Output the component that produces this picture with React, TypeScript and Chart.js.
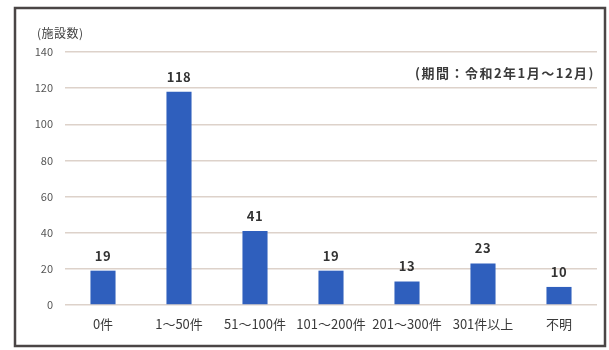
import React, { useEffect, useRef } from "react";
import { Chart, registerables } from "chart.js";

Chart.register(...registerables);

const categories = ["0件", "1～50件", "51～100件", "101～200件", "201～300件", "301件以上", "不明"];
const counts = [19, 118, 41, 19, 13, 23, 10];
const yTitle = "(施設数)";
const periodNote = "(期間：令和2年1月～12月)";
const yMax = 140;
const yStep = 20;

const FONT = "'Noto Sans CJK JP', 'Noto Sans', sans-serif";

const framePlugin = {
  id: "frameAndText",
  beforeDraw(chart: any) {
    const ctx = chart.ctx;
    ctx.save();
    ctx.fillStyle = "#ffffff";
    ctx.fillRect(0, 0, chart.width, chart.height);
    ctx.strokeStyle = "#4a4545";
    ctx.lineWidth = 2.5;
    ctx.strokeRect(15, 8, 590, 338);
    ctx.restore();
  },
  afterDatasetsDraw(chart: any) {
    const ctx = chart.ctx;
    ctx.save();
    const meta = chart.getDatasetMeta(0);
    ctx.fillStyle = "#333333";
    ctx.font = `bold 13px ${FONT}`;
    ctx.textAlign = "center";
    ctx.textBaseline = "middle";
    (ctx as any).letterSpacing = "0.5px";
    meta.data.forEach((bar: any, i: number) => {
      ctx.fillText(String(counts[i]), bar.x, bar.y - 15);
    });
    ctx.fillStyle = "#444444";
    ctx.font = `12px ${FONT}`;
    ctx.textAlign = "left";
    (ctx as any).letterSpacing = "0.5px";
    ctx.fillText(yTitle, 37, 33);
    ctx.font = `bold 13px ${FONT}`;
    ctx.textAlign = "right";
    ctx.fillStyle = "#3a3a3a";
    (ctx as any).letterSpacing = "1.5px";
    ctx.fillText(periodNote, 595, 73);
    ctx.restore();
  },
};

export default function App() {
  const ref = useRef<HTMLCanvasElement>(null);
  useEffect(() => {
    document.body.style.margin = "0";
    const chart = new Chart(ref.current!, {
      type: "bar",
      data: {
        labels: categories,
        datasets: [
          {
            data: counts,
            backgroundColor: "#2f5fbd",
            barPercentage: 0.66,
            categoryPercentage: 0.5,
          },
        ],
      },
      options: {
        responsive: false,
        animation: false,
        layout: { padding: { top: 52, right: 12, left: 0, bottom: 0 } },
        plugins: { legend: { display: false }, tooltip: { enabled: false } },
        scales: {
          x: {
            grid: { display: false, drawTicks: false },
            border: { display: false },
            ticks: {
              color: "#3a3a3a",
              font: { family: FONT, size: 13 },
              padding: 11,
              maxRotation: 0,
              autoSkip: false,
            },
            afterFit(scale: any) {
              scale.height = 45;
            },
          },
          y: {
            min: 0,
            max: yMax,
            ticks: {
              stepSize: yStep,
              color: "#555555",
              font: { family: FONT, size: 11 },
              padding: 12,
            },
            grid: { color: "#ddd2ca", lineWidth: 1.5, drawTicks: false },
            border: { display: false },
            afterFit(scale: any) {
              scale.width = 65;
            },
          },
        },
      },
      plugins: [framePlugin],
    });
    return () => chart.destroy();
  }, []);
  return <canvas ref={ref} width={609} height={350} style={{ display: "block" }} />;
}
